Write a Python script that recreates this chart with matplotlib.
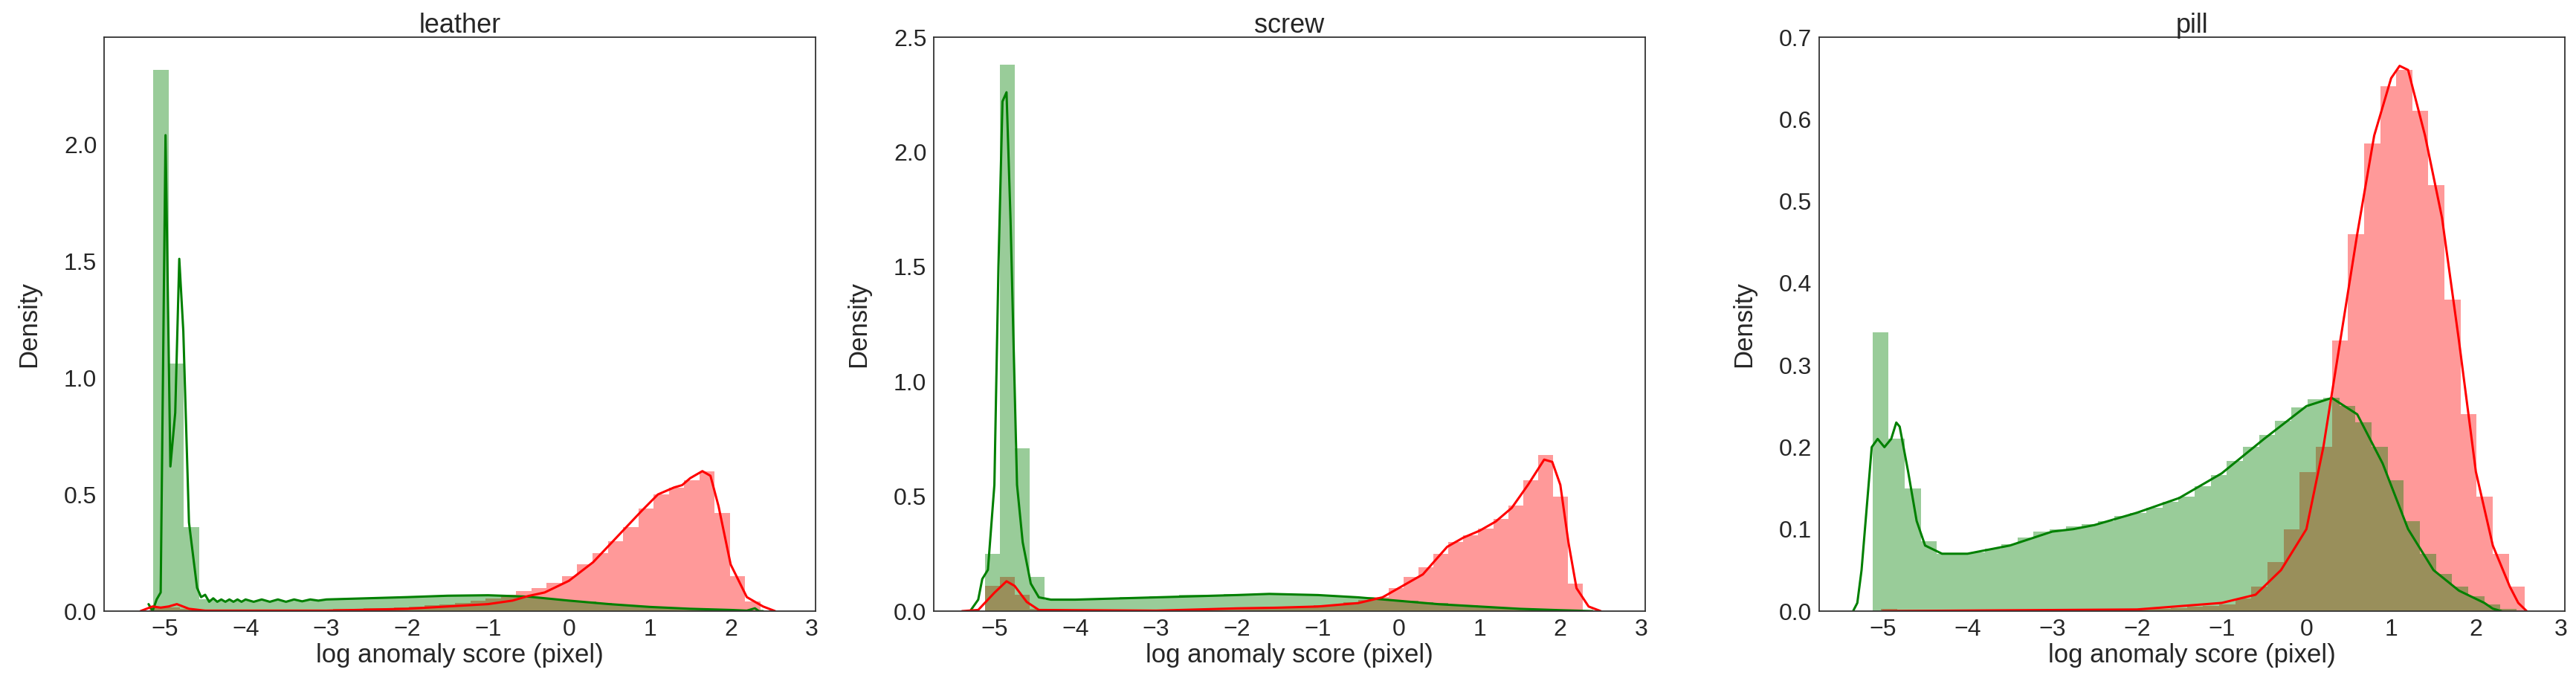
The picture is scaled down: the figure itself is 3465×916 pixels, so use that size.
import numpy as np
import matplotlib
matplotlib.use("Agg")
import matplotlib.pyplot as plt
import seaborn as sns

sns.set_style("white")
plt.rcParams['font.family'] = ['Liberation Sans', 'DejaVu Sans']

titles = ["leather", "screw", "pill"]
nbins = 40

# histogram ranges (lo, hi) and densities
leather_green_range = (-5.14, 2.42)
leather_green = [2.32,1.06,0.36,0.05,0.045,0.045,0.045,0.045,0.045,0.046,0.047,0.048,0.05,0.052,0.054,0.056,0.058,0.06,0.062,0.064,0.065,0.066,0.066,0.065,0.062,0.058,0.052,0.046,0.04,0.034,0.028,0.022,0.017,0.013,0.01,0.008,0.006,0.005,0.004,0.003]
leather_red_range = (-5.19, 2.37)
leather_red = [0.02,0.015,0.01,0.005,0.003,0.003,0.003,0.003,0.004,0.005,0.006,0.007,0.008,0.01,0.012,0.014,0.017,0.02,0.024,0.03,0.036,0.044,0.055,0.07,0.085,0.1,0.12,0.15,0.2,0.25,0.3,0.36,0.44,0.5,0.53,0.56,0.6,0.42,0.15,0.04]

screw_green_range = (-5.12, 2.28)
screw_green = [0.25,2.38,0.71,0.15,0.05,0.05,0.05,0.05,0.055,0.06,0.06,0.065,0.065,0.07,0.07,0.07,0.075,0.075,0.075,0.075,0.075,0.072,0.07,0.068,0.065,0.06,0.055,0.05,0.045,0.04,0.035,0.03,0.025,0.02,0.016,0.012,0.009,0.006,0.004,0.002]
screw_red_range = (-5.12, 2.28)
screw_red = [0.11,0.15,0.07,0.01,0.002,0.002,0.002,0.002,0.002,0.003,0.004,0.005,0.006,0.008,0.01,0.012,0.014,0.015,0.016,0.017,0.018,0.02,0.025,0.03,0.04,0.05,0.06,0.1,0.15,0.19,0.25,0.3,0.33,0.36,0.4,0.46,0.57,0.68,0.5,0.12]

pill_green_range = (-5.12, 2.48)
pill_green = [0.34,0.21,0.15,0.085,0.07,0.07,0.072,0.076,0.082,0.09,0.097,0.1,0.103,0.106,0.11,0.116,0.12,0.126,0.133,0.14,0.152,0.166,0.183,0.2,0.215,0.232,0.248,0.258,0.26,0.25,0.23,0.2,0.16,0.11,0.07,0.045,0.03,0.018,0.008,0.003]
pill_red_range = (-5.02, 2.58)
pill_red = [0.003,0.002,0.002,0.002,0.002,0.002,0.002,0.002,0.002,0.002,0.002,0.002,0.002,0.002,0.002,0.003,0.003,0.003,0.004,0.005,0.006,0.008,0.015,0.03,0.06,0.1,0.17,0.2,0.33,0.46,0.57,0.64,0.66,0.61,0.52,0.38,0.24,0.14,0.07,0.03]

# KDE curves
leather_green_kde_x = [-5.2,-5.15,-5.1,-5.05,-4.99,-4.93,-4.87,-4.82,-4.77,-4.7,-4.6,-4.55,-4.5,-4.45,-4.4,-4.35,-4.3,-4.25,-4.2,-4.15,-4.1,-4.05,-4.0,-3.9,-3.8,-3.7,-3.6,-3.5,-3.4,-3.3,-3.2,-3.1,-3.0,-2.5,-2.0,-1.5,-1.0,-0.5,0.0,0.5,1.0,1.5,2.0,2.2,2.3,2.35,2.4]
leather_green_kde_y = [0.03,0.0,0.05,0.08,2.04,0.62,0.85,1.51,1.2,0.38,0.1,0.06,0.07,0.04,0.055,0.04,0.05,0.04,0.05,0.04,0.05,0.04,0.05,0.04,0.05,0.04,0.05,0.04,0.05,0.042,0.05,0.045,0.05,0.055,0.06,0.066,0.068,0.062,0.045,0.03,0.018,0.01,0.005,0.002,0.012,0.0,0.0]
leather_red_kde_x = [-5.3,-5.15,-5.05,-4.95,-4.85,-4.7,-4.5,-3.0,-2.0,-1.0,-0.7,-0.5,-0.3,0.0,0.3,0.6,0.9,1.1,1.3,1.4,1.5,1.65,1.75,1.85,2.0,2.2,2.4,2.55]
leather_red_kde_y = [0.0,0.02,0.015,0.02,0.03,0.01,0.002,0.002,0.01,0.03,0.045,0.065,0.08,0.13,0.21,0.32,0.43,0.5,0.53,0.54,0.57,0.6,0.58,0.45,0.2,0.06,0.02,0.0]

screw_green_kde_x = [-5.3,-5.2,-5.15,-5.08,-5.0,-4.95,-4.9,-4.85,-4.8,-4.72,-4.65,-4.55,-4.45,-4.3,-4.0,-3.0,-2.0,-1.6,-1.0,-0.5,0.0,0.5,1.0,1.5,2.0,2.4]
screw_green_kde_y = [0.0,0.05,0.14,0.18,0.55,1.5,2.22,2.26,1.7,0.55,0.3,0.12,0.06,0.05,0.05,0.06,0.07,0.075,0.07,0.06,0.045,0.03,0.02,0.01,0.004,0.0]
screw_red_kde_x = [-5.4,-5.2,-5.0,-4.85,-4.75,-4.6,-4.45,-3.0,-2.0,-1.5,-1.0,-0.5,-0.2,0.0,0.3,0.6,0.8,1.0,1.2,1.4,1.6,1.8,1.9,2.0,2.1,2.2,2.35,2.5]
screw_red_kde_y = [0.0,0.005,0.08,0.13,0.11,0.04,0.005,0.002,0.012,0.015,0.02,0.035,0.06,0.1,0.16,0.28,0.32,0.35,0.39,0.45,0.55,0.66,0.65,0.55,0.3,0.1,0.02,0.0]

pill_green_kde_x = [-5.35,-5.3,-5.25,-5.13,-5.06,-4.98,-4.9,-4.84,-4.8,-4.7,-4.6,-4.5,-4.3,-4.0,-3.5,-3.0,-2.75,-2.5,-2.0,-1.5,-1.0,-0.5,0.0,0.3,0.6,0.9,1.2,1.5,1.8,2.1,2.2,2.3]
pill_green_kde_y = [0.0,0.01,0.05,0.2,0.21,0.2,0.21,0.23,0.225,0.17,0.11,0.08,0.07,0.07,0.08,0.097,0.1,0.105,0.12,0.138,0.168,0.21,0.25,0.26,0.24,0.18,0.1,0.05,0.025,0.01,0.003,0.0]
pill_red_kde_x = [-5.0,-2.0,-1.0,-0.6,-0.3,0.0,0.2,0.4,0.6,0.8,1.0,1.1,1.2,1.4,1.6,1.8,2.0,2.2,2.4,2.5,2.6]
pill_red_kde_y = [0.0,0.002,0.01,0.02,0.05,0.1,0.2,0.33,0.46,0.58,0.65,0.665,0.66,0.58,0.48,0.33,0.17,0.08,0.03,0.01,0.0]

panels = [
    (leather_green_range, leather_green, leather_red_range, leather_red,
     leather_green_kde_x, leather_green_kde_y, leather_red_kde_x, leather_red_kde_y, 2.46, [0, 0.5, 1.0, 1.5, 2.0]),
    (screw_green_range, screw_green, screw_red_range, screw_red,
     screw_green_kde_x, screw_green_kde_y, screw_red_kde_x, screw_red_kde_y, 2.5, [0, 0.5, 1.0, 1.5, 2.0, 2.5]),
    (pill_green_range, pill_green, pill_red_range, pill_red,
     pill_green_kde_x, pill_green_kde_y, pill_red_kde_x, pill_red_kde_y, 0.7, [0, 0.1, 0.2, 0.3, 0.4, 0.5, 0.6, 0.7]),
]

W, H = 3466, 916
fig = plt.figure(figsize=(W / 100, H / 100), dpi=100)
boxes = [(140, 1097), (1256, 2213), (2447, 3450)]
top, bottom = 50, 822

for (x0, x1), title, p in zip(boxes, titles, panels):
    ax = fig.add_axes([x0 / W, 1 - bottom / H, (x1 - x0) / W, (bottom - top) / H])
    grng, gh, rrng, rh, gkx, gky, rkx, rky, ymax, yt = p
    for rng, h, col in ((rrng, rh, "red"), (grng, gh, "green")):
        edges = np.linspace(rng[0], rng[1], nbins + 1)
        ax.bar(edges[:-1], h, width=np.diff(edges), align="edge", color=col, alpha=0.4, linewidth=0)
    ax.plot(gkx, gky, color="green", lw=2.2)
    ax.plot(rkx, rky, color="red", lw=2.2)
    ax.set_xlim(-5.75, 3.05)
    ax.set_ylim(0, ymax)
    ax.set_yticks(yt)
    ax.set_xticks(range(-5, 4))
    ax.set_xticklabels([f"{v}".replace("-", "\u2212") for v in range(-5, 4)])
    ax.tick_params(labelsize=23)
    ax.set_title(title, fontsize=26, pad=4)
    ax.set_xlabel("log anomaly score (pixel)", fontsize=25, labelpad=2)
    ax.set_ylabel("Density", fontsize=25, labelpad=22)
    for s in ax.spines.values():
        s.set_color("#333333")
        s.set_linewidth(1.3)

fig.savefig("out.png", dpi=100)
